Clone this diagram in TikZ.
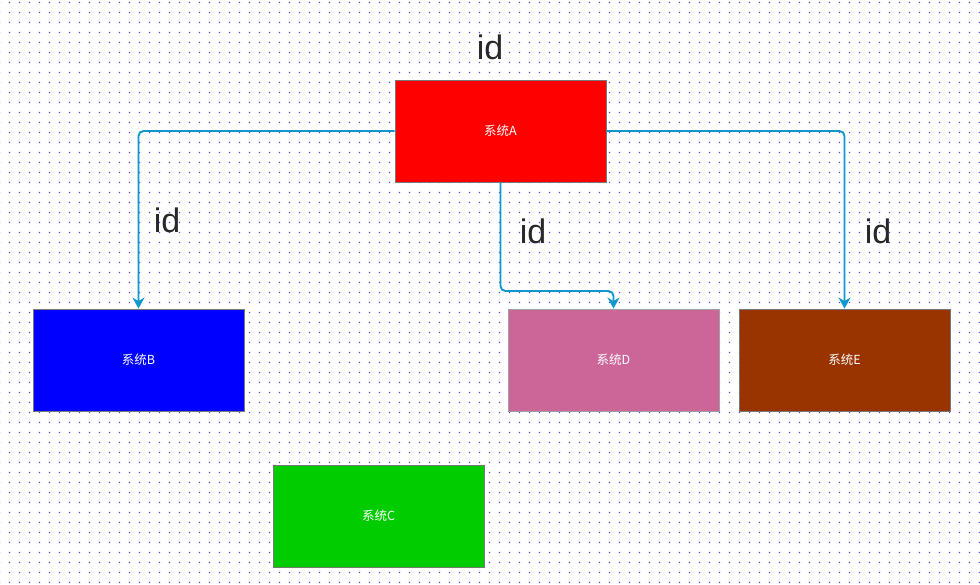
\documentclass[tikz,border=0pt]{standalone}
\usepackage{fontspec}
\setmainfont{Liberation Sans}
\newfontfamily\cjk{Noto Sans CJK SC}
\usetikzlibrary{arrows.meta}
\definecolor{dotc}{RGB}{70,70,240}
\definecolor{linkc}{RGB}{16,152,206}
\definecolor{boxline}{RGB}{120,120,120}
\definecolor{idc}{RGB}{40,40,40}
\definecolor{colA}{RGB}{255,0,0}
\definecolor{colB}{RGB}{0,0,255}
\definecolor{colC}{RGB}{0,204,0}
\definecolor{colD}{RGB}{204,102,153}
\definecolor{colE}{RGB}{153,51,0}
\tikzset{
  sysbox/.style={draw=boxline, line width=0.9pt, minimum width=211pt, minimum height=102pt,
    inner sep=0pt, text=white, font=\cjk\fontsize{12.5pt}{14pt}\selectfont},
  link/.style={draw=linkc, line width=1.9pt, rounded corners=5pt,
    -{Stealth[length=11pt,width=12pt,inset=3.5pt]}},
  idlabel/.style={text=idc, font=\fontsize{34pt}{38pt}\selectfont, inner sep=0pt}
}
\begin{document}
\begin{tikzpicture}[x=1pt,y=-1pt]
\fill[white] (0,0) rectangle (980,584);
\useasboundingbox (0,0) rectangle (980,584);
\foreach \j in {0,...,58}{
  \fill[dotc] \foreach \i in {0,...,98}{(\i*10-1.2,\j*10+1.8) rectangle ++(1.4,1.4)};
}
\node[sysbox, fill=colA] (A) at (500.5,131) {系统A};
\node[sysbox, fill=colB] (B) at (138.5,360) {系统B};
\node[sysbox, fill=colD, draw=boxline!70] (D) at (613.5,360) {系统D};
\node[sysbox, fill=colE] (E) at (844.5,360) {系统E};
\node[sysbox, fill=colC] (C) at (378.5,516) {系统C};
\coordinate (bend) at (500.5,291);
\draw[link] (A.west) -| (B.north);
\draw[link] (A.east) -| (E.north);
\draw[link] (A.south) -- (bend) -| (D.north);
\node[idlabel] (id1) at (490,47) {id};
\node[idlabel] (id2) at (167,220) {id};
\node[idlabel] (id3) at (533,231) {id};
\node[idlabel] (id4) at (878,231) {id};
\end{tikzpicture}
\end{document}
